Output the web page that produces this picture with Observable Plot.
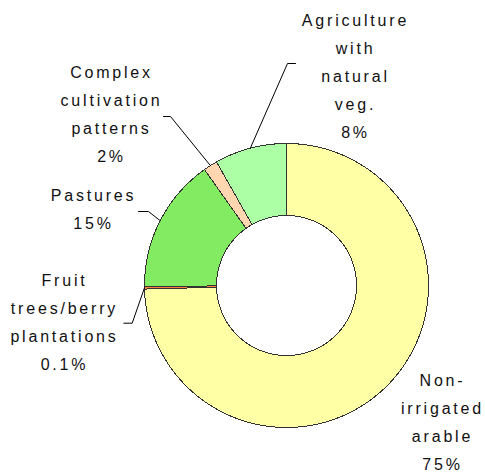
<!DOCTYPE html>
<html><head><meta charset="utf-8">
<script src="https://cdn.jsdelivr.net/npm/d3@7"></script>
<script src="https://cdn.jsdelivr.net/npm/@observablehq/plot@0.6"></script>
<style>html,body{margin:0;padding:0;background:#fff}svg{display:block}</style>
</head><body><div id="chart"></div>
<script>
// ---- data ----
const categories = ["Non-irrigated arable", "Fruit trees/berry plantations", "Pastures", "Complex cultivation patterns", "Agriculture with natural veg."];
const shares = [74.6, 0.3, 15.3, 1.6, 8.2];
const labelLines = [
  ["Non-", "irrigated", "arable", "75%"],
  ["Fruit", "trees/berry", "plantations", "0.1%"],
  ["Pastures", "15%"],
  ["Complex", "cultivation", "patterns", "2%"],
  ["Agriculture", "with", "natural", "veg.", "8%"]
];
const sliceColors = ["#FFFFA6", "#FF8040", "#82EB62", "#FFD6B0", "#ADFFA6"];

// ---- layout ----
const W = 485, H = 474, cx = 286, cy = 285, R = 142, r = 70, lineH = 28;
const labelTop = [[442, 377], [64, 277], [93, 192], [111, 69], [355, 17]];
const leaderBends = [null, [[131.7, 322.7], [123.3, 322.7]], [[148, 211], [138, 211]], [[170, 116], [163, 116]], [[287, 63], [295, 63]]];

const total = d3.sum(shares);
const pt = (a, rad) => [cx + rad * Math.sin(a), cy - rad * Math.cos(a)];
const slicePts = [];
const leaderPts = [];
let acc = 0;
categories.forEach((c, i) => {
  const a0 = acc / total * 2 * Math.PI;
  acc += shares[i];
  const a1 = acc / total * 2 * Math.PI;
  const n = Math.max(2, Math.ceil((a1 - a0) / (Math.PI / 360)));
  for (let k = 0; k <= n; k++) { const a = a0 + (a1 - a0) * k / n; const [x, y] = pt(a, R); slicePts.push({c, x, y}); }
  for (let k = n; k >= 0; k--) { const a = a0 + (a1 - a0) * k / n; const [x, y] = pt(a, r); slicePts.push({c, x, y}); }
  if (leaderBends[i]) {
    const [sx, sy] = pt((a0 + a1) / 2, R);
    leaderPts.push({c, x: sx, y: sy});
    leaderBends[i].forEach(([x, y]) => leaderPts.push({c, x, y}));
  }
});
const labels = categories.map((c, i) => ({c, text: labelLines[i].join("\n"), x: labelTop[i][0], y: labelTop[i][1] + (labelLines[i].length - 1) * lineH / 2}));

const chart = Plot.plot({
  width: W, height: H, margin: 0,
  x: {domain: [0, W], range: [0, W], axis: null},
  y: {domain: [0, H], range: [0, H], axis: null},
  color: {domain: categories, range: sliceColors},
  style: {fontFamily: "'Liberation Sans', Arial, sans-serif", fontSize: "16px", letterSpacing: "2.8px", background: "#fff"},
  marks: [
    Plot.line(slicePts, {x: "x", y: "y", z: "c", fill: "c", stroke: "#333", strokeWidth: 1, curve: "linear-closed", shapeRendering: "crispEdges"}),
    Plot.line(leaderPts, {x: "x", y: "y", z: "c", stroke: "#000", strokeWidth: 1}),
    Plot.text(labels, {x: "x", y: "y", text: "text", textAnchor: "middle", lineAnchor: "middle", lineHeight: lineH / 16, fill: "#111", fontSize: 16})
  ]
});
document.getElementById("chart").appendChild(chart);
</script>
</body></html>
